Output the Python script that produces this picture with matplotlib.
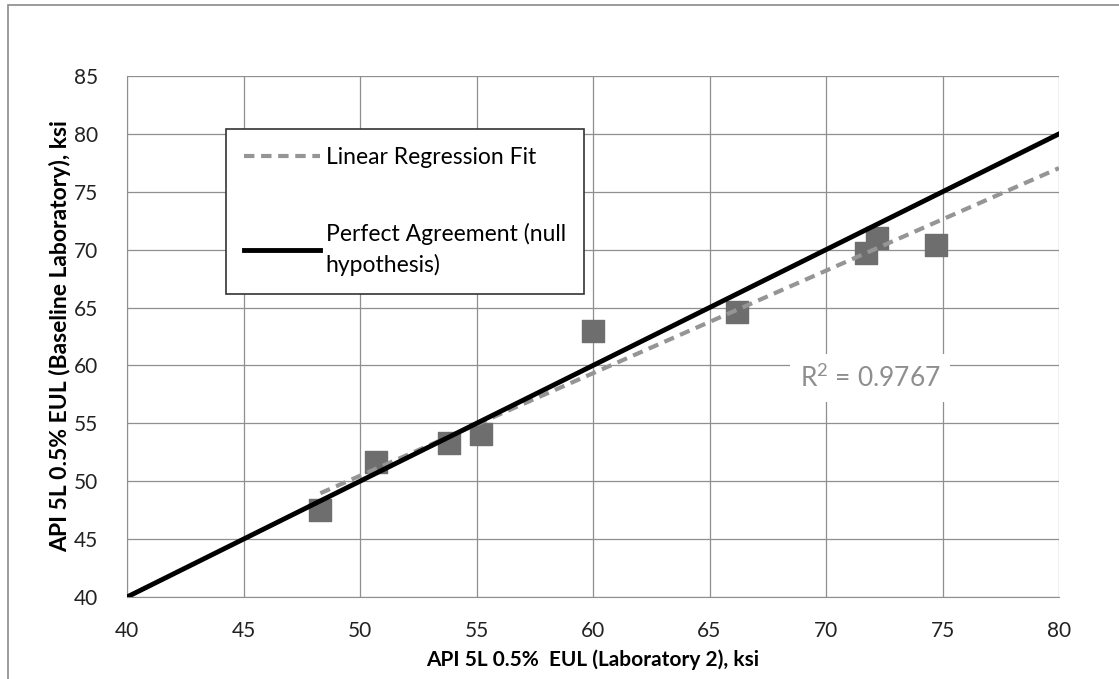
import numpy as np
import matplotlib
matplotlib.use('Agg')
from matplotlib import pyplot as plt
from matplotlib.patches import Rectangle

# data
lab2 = [48.3, 50.7, 53.8, 55.2, 60.0, 66.2, 71.7, 72.2, 74.7]
baseline = [47.5, 51.7, 53.3, 54.1, 63.0, 64.6, 69.7, 71.0, 70.4]
perfect_x = [40, 80]
r2_text = 'R$^2$ = 0.9767'
xticks = [40, 45, 50, 55, 60, 65, 70, 75, 80]
yticks = [40, 45, 50, 55, 60, 65, 70, 75, 80, 85]

plt.rcParams['font.family'] = ['Lato', 'DejaVu Sans']
plt.rcParams['mathtext.fontset'] = 'custom'
plt.rcParams['mathtext.rm'] = 'Lato'

fig = plt.figure(figsize=(11.19, 6.79), dpi=100)
fig.patches.append(Rectangle((8 / 1119, -0.01), 1.02, 1 - 5 / 679 + 0.01,
                             transform=fig.transFigure, fill=False,
                             edgecolor='#8a8a8a', lw=1.2))
ax = fig.add_axes([127 / 1119, 1 - 597 / 679, (1059 - 127) / 1119, (597 - 76) / 679])

# linear fit through the points, drawn from the lowest x out to 80
k, b = np.polyfit(lab2, baseline, 1)
fit_x = np.array([min(lab2), 80])

ax.scatter(lab2, baseline, marker='s', s=270, color='#6e6e6e', zorder=3)
ax.plot(fit_x, k * fit_x + b, color='#959595', lw=3, ls=(0, (2.5, 1.6)),
        label='Linear Regression Fit', zorder=4)
ax.plot(perfect_x, perfect_x, color='black', lw=3.5,
        label='Perfect Agreement (null\nhypothesis)', zorder=5)

ax.text(71.9, 58.9, r2_text, fontsize=19, color='#8e8e8e', ha='center', va='center',
        bbox=dict(facecolor='white', edgecolor='none', pad=7), zorder=6)

ax.set_xlim(40, 80)
ax.set_ylim(40, 85)
ax.set_xticks(xticks)
ax.set_yticks(yticks)
ax.grid(True, color='#8f8f8f', lw=0.9)
ax.set_axisbelow(True)
ax.tick_params(labelsize=15, length=0, colors='#222222')
ax.tick_params(axis='x', pad=17)
ax.tick_params(axis='y', pad=21)
for s in ['top', 'right']:
    ax.spines[s].set_visible(False)
for s in ['left', 'bottom']:
    ax.spines[s].set_color('#8f8f8f')

ax.set_xlabel('API 5L 0.5%  EUL (Laboratory 2), ksi', fontsize=15, fontweight='bold', labelpad=6)
ax.set_ylabel('API 5L 0.5% EUL (Baseline Laboratory), ksi', fontsize=16.5, fontweight='bold', labelpad=2)

leg = ax.legend(loc='upper left', bbox_to_anchor=((226 - 127) / 932, (597 - 129) / 521),
                fontsize=16.5, frameon=True, fancybox=False, labelspacing=2.4,
                handlelength=3.3, handletextpad=0.25, borderpad=0.8, borderaxespad=0)
leg.get_texts()[1].set_linespacing(1.45)
leg.get_frame().set_edgecolor('#333333')
leg.get_frame().set_linewidth(1.2)
leg.get_frame().set_alpha(1)

fig.savefig('out.png', dpi=100)
